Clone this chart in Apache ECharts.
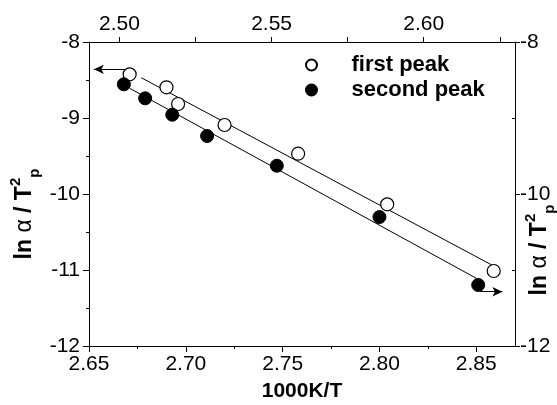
<!DOCTYPE html>
<html><head><meta charset="utf-8">
<script src="https://cdn.jsdelivr.net/npm/echarts@6/dist/echarts.min.js"></script>
<style>html,body{margin:0;padding:0;background:#fff}#c{width:557px;height:405px}</style>
</head><body><div id="c"></div>
<script>
// Data
const firstX = [2.671, 2.690, 2.696, 2.720, 2.758, 2.804, 2.859];
const firstY = [-8.425, -8.596, -8.816, -9.092, -9.470, -10.136, -11.013];
const secondX = [2.668, 2.679, 2.693, 2.711, 2.747, 2.800, 2.851];
const secondY = [-8.557, -8.741, -8.957, -9.237, -9.628, -10.303, -11.197];
const firstFitX = [2.677, 2.858];
const firstFitY = [-8.47, -10.934];
const secondFitX = [2.671, 2.850];
const secondFitY = [-8.609, -11.109];
const arrowLeftX = [2.6695, 2.6525];
const arrowLeftY = [-8.36, -8.36];
const arrowRightX = [2.852, 2.8635];
const arrowRightY = [-11.286, -11.286];
const bottomTicks = [2.65, 2.70, 2.75, 2.80, 2.85];
const bottomMinor = [2.675, 2.725, 2.775, 2.825];
const topTicks = [2.50, 2.525, 2.55, 2.575, 2.60, 2.625];
const topLabels = [2.50, 2.55, 2.60];
const leftTicks = [-12, -11, -10, -9, -8];
const leftMinor = [-11.5, -10.5, -9.5, -8.5];
const rightLabels = [-12, -10, -8];
const rightMinor = [-11, -9];

const zip = (a, b) => a.map((v, i) => [v, b[i]]);
const F = 'Liberation Sans, Arial, sans-serif';
const lbl = {color: '#000', fontSize: 21, fontFamily: F};
const chart = echarts.init(document.getElementById('c'));

const yName = {
  b: {fontSize: 23, fontWeight: 'bold', fontFamily: F, color: '#000'},
  a: {fontSize: 23, fontFamily: F, color: '#000'},
  sup: {fontSize: 15, fontWeight: 'bold', fontFamily: F, color: '#000', verticalAlign: 'top', lineHeight: 34},
  sub: {fontSize: 15, fontWeight: 'bold', fontFamily: F, color: '#000', verticalAlign: 'bottom', lineHeight: 34}
};
const yText = '{b|ln }{a|α}{b| / T}{sup|2}{sub|p}';

chart.setOption({
  animation: false,
  backgroundColor: '#fff',
  grid: {left: 89, right: 42, top: 42, bottom: 59, containLabel: false, outerBoundsMode: 'none'},
  legend: {
    orient: 'vertical', left: 300, top: 49, itemWidth: 70, itemHeight: 11, itemGap: 3,
    textStyle: {fontSize: 22, fontWeight: 'bold', fontFamily: F, color: '#000'},
    data: ['first peak', 'second peak']
  },
  xAxis: [
    {type: 'value', position: 'bottom', min: 2.65, max: 2.87,
     name: '1000K/T', nameLocation: 'middle', nameGap: 35,
     nameTextStyle: {fontSize: 21, fontWeight: 'bold', fontFamily: F, color: '#000'},
     axisLine: {lineStyle: {color: '#000', width: 1}},
     axisTick: {length: 6, lineStyle: {color: '#000'}, customValues: bottomTicks},
     axisLabel: {...lbl, margin: 8, customValues: bottomTicks, formatter: v => v.toFixed(2)},
     splitLine: {show: false}},
    {type: 'value', position: 'top', min: 2.49, max: 2.63,
     axisLine: {lineStyle: {color: '#000', width: 1}},
     axisTick: {length: 5, lineStyle: {color: '#000'}, customValues: topTicks},
     axisLabel: {...lbl, margin: 7, customValues: topLabels, formatter: v => v.toFixed(2)},
     splitLine: {show: false}},
    {type: 'value', position: 'bottom', min: 2.65, max: 2.87,
     axisLine: {show: false},
     axisTick: {length: 3, lineStyle: {color: '#000'}, customValues: bottomMinor},
     axisLabel: {show: false}, splitLine: {show: false}}
  ],
  yAxis: [
    {type: 'value', position: 'left', min: -12, max: -8,
     axisLine: {show: true, lineStyle: {color: '#000', width: 1}},
     axisTick: {show: true, length: 6, lineStyle: {color: '#000'}, customValues: leftTicks},
     axisLabel: {...lbl, margin: 9, customValues: leftTicks},
     splitLine: {show: false}},
    {type: 'value', position: 'right', min: -12, max: -8,
     axisLine: {show: true, lineStyle: {color: '#000', width: 1}},
     axisTick: {show: true, length: 5, lineStyle: {color: '#000'}, customValues: rightLabels},
     axisLabel: {...lbl, margin: 5, customValues: rightLabels},
     splitLine: {show: false}},
    {type: 'value', position: 'left', min: -12, max: -8,
     axisLine: {show: false},
     axisTick: {show: true, length: 3, lineStyle: {color: '#000'}, customValues: leftMinor},
     axisLabel: {show: false}, splitLine: {show: false}},
    {type: 'value', position: 'right', min: -12, max: -8,
     axisLine: {show: false},
     axisTick: {show: true, inside: true, length: 3, lineStyle: {color: '#000'}, customValues: rightMinor},
     axisLabel: {show: false}, splitLine: {show: false}}
  ],
  graphic: [
    {type: 'text', x: 25, y: 214, rotation: Math.PI / 2,
     style: {text: yText, rich: yName, align: 'center', verticalAlign: 'middle'}},
    {type: 'text', x: 540, y: 250, rotation: Math.PI / 2,
     style: {text: yText, rich: yName, align: 'center', verticalAlign: 'middle'}}
  ],
  series: [
    {type: 'line', data: zip(firstFitX, firstFitY), symbol: 'none', silent: true,
     lineStyle: {color: '#000', width: 1},
     markLine: {silent: true, symbol: ['none', 'arrow'], symbolSize: [7, 10], label: {show: false},
       lineStyle: {color: '#000', width: 1, type: 'solid'},
       data: [[{coord: [arrowLeftX[0], arrowLeftY[0]]}, {coord: [arrowLeftX[1], arrowLeftY[1]]}],
              [{coord: [arrowRightX[0], arrowRightY[0]]}, {coord: [arrowRightX[1], arrowRightY[1]]}]]}},
    {type: 'line', data: zip(secondFitX, secondFitY), symbol: 'none', silent: true,
     lineStyle: {color: '#000', width: 1}},
    {name: 'first peak', type: 'scatter', data: zip(firstX, firstY), symbol: 'circle', symbolSize: 13,
     itemStyle: {color: '#fff', borderColor: '#000', borderWidth: 1.2, opacity: 1}, z: 5},
    {name: 'second peak', type: 'scatter', data: zip(secondX, secondY), symbol: 'circle', symbolSize: 13,
     itemStyle: {color: '#000', borderColor: '#000', borderWidth: 1, opacity: 1}, z: 5}
  ]
});
</script></body></html>
